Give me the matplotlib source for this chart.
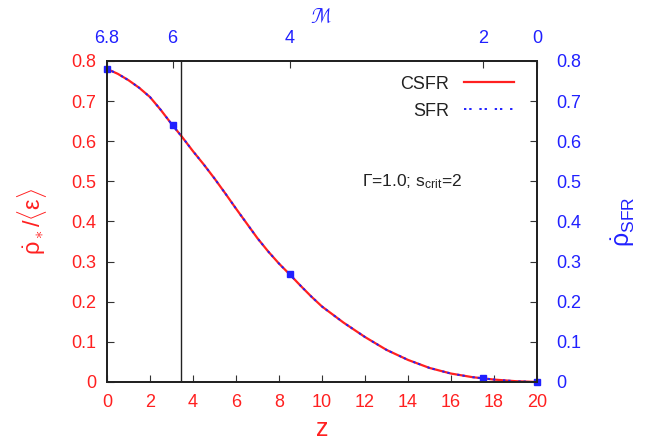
import matplotlib
matplotlib.use("Agg")
import matplotlib.pyplot as plt

plt.rcParams['font.family'] = ['Liberation Sans', 'DejaVu Sans']
plt.rcParams['mathtext.fontset'] = 'custom'
plt.rcParams['mathtext.rm'] = 'Liberation Sans'
plt.rcParams['mathtext.it'] = 'Liberation Sans:italic'
plt.rcParams['mathtext.bf'] = 'Liberation Sans:bold'

RED = "#ff2020"
BLUE = "#2020ff"

# curve
z = [0, 0.5, 1, 1.5, 2, 2.5, 3, 3.5, 4, 4.5, 5, 5.5, 6, 6.5, 7, 7.5, 8, 8.5,
     9, 9.5, 10, 11, 12, 13, 14, 15, 16, 17, 17.5, 18, 19, 20]
csfr = [0.78, 0.768, 0.752, 0.733, 0.71, 0.678, 0.643, 0.61, 0.575, 0.542,
        0.507, 0.47, 0.432, 0.395, 0.358, 0.325, 0.295, 0.268, 0.24, 0.213,
        0.188, 0.148, 0.112, 0.08, 0.055, 0.035, 0.021, 0.012, 0.009, 0.006,
        0.002, 0.0]

# SFR sample points (square markers) and matching Mach numbers
z_pts = [0, 3.05, 8.5, 17.5, 20]
sfr_pts = [0.78, 0.64, 0.268, 0.009, 0.0]
mach_labels = ["6.8", "6", "4", "2", "0"]

z_line = 3.44

fig = plt.figure(figsize=(6.59, 4.45), dpi=100)
ax = fig.add_axes([0.1624, 0.1416, 0.6525, 0.7214])

ax.plot(z, csfr, color=RED, lw=1.6, label="CSFR")
ax.plot(z, csfr, color=BLUE, lw=1.4, ls=(0, (1.2, 1.5, 1.2, 4)), label="SFR")
ax.plot(z_pts, sfr_pts, ls="none", marker="s", ms=4, color=BLUE, clip_on=False)
ax.axvline(z_line, color="#222222", lw=1)

ticks_y = [i / 10 for i in range(9)]
ylabels = ["0"] + ["%.1f" % v for v in ticks_y[1:]]

ax.set_xlim(0, 20)
ax.set_ylim(0, 0.8)
ax.set_xticks(range(0, 21, 2))
ax.set_yticks(ticks_y)
ax.set_yticklabels(ylabels)
ax.tick_params(direction="in", length=5, labelsize=13, colors="#333333")
ax.tick_params(axis="x", pad=9)
ax.tick_params(axis="y", pad=8)
for lab in ax.get_xticklabels() + ax.get_yticklabels():
    lab.set_color(RED)
ax.set_xlabel("z", color=RED, fontsize=18, labelpad=4)
ax.set_ylabel(r"$\dot{\mathrm{\rho}}_{\bf\ast}/\langle\mathrm{\varepsilon}\rangle$",
              color=RED, fontsize=17, labelpad=16)

# right axis
axr = ax.twinx()
axr.set_ylim(0, 0.8)
axr.set_yticks(ticks_y)
axr.set_yticklabels(ylabels)
axr.tick_params(direction="in", length=5, labelsize=13, colors="#333333", pad=14)
for lab in axr.get_yticklabels():
    lab.set_color(BLUE)
axr.set_ylabel(r"$\dot{\mathrm{\rho}}_{\rm SFR}$", color=BLUE, fontsize=18, labelpad=20)

# top axis (Mach number)
axt = ax.twiny()
axt.set_xlim(0, 20)
axt.set_xticks(z_pts)
axt.set_xticklabels(mach_labels)
axt.tick_params(direction="in", length=5, labelsize=13, colors="#333333", pad=10)
for lab in axt.get_xticklabels():
    lab.set_color(BLUE)
axt.set_xlabel(r"$\mathcal{M}$", color=BLUE, fontsize=14, labelpad=5)

for a in (ax, axr, axt):
    for s in a.spines.values():
        s.set_linewidth(1.2)
        s.set_color("#222222")

ax.text(0.592, 0.623, r"$\Gamma$=1.0; s$_{\rm crit}$=2", transform=ax.transAxes,
        fontsize=12.5, color="#222222", va="center")

leg = ax.legend(loc="upper right", frameon=False, markerfirst=False, fontsize=13,
                handlelength=2.8, bbox_to_anchor=(0.985, 1.005), labelspacing=0.55)
for t in leg.get_texts():
    t.set_color("#222222")

fig.savefig("out.png", dpi=100)
